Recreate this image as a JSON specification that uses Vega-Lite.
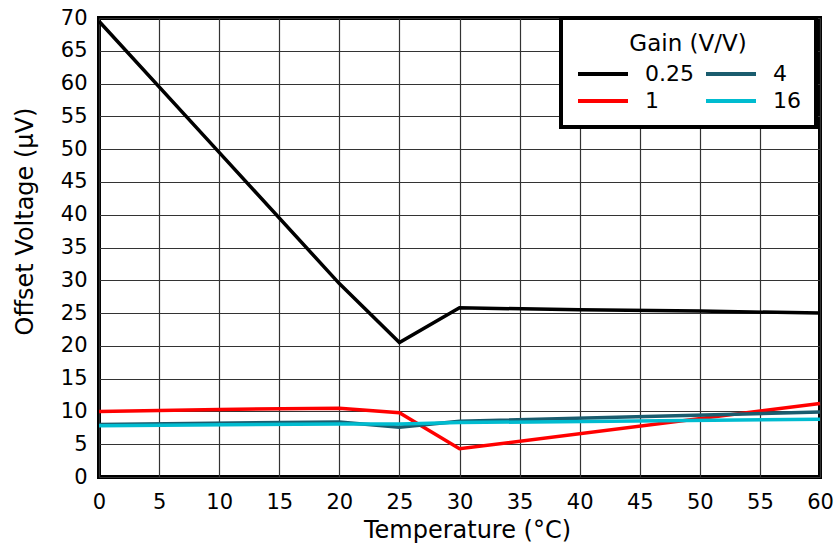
{
  "$schema": "https://vega.github.io/schema/vega-lite/v6.json",
  "width": 721,
  "height": 459,
  "autosize": "none",
  "padding": {"left": 99, "top": 18, "right": 17, "bottom": 68},
  "config": {
    "font": "DejaVu Sans",
    "view": {"stroke": "black", "strokeWidth": 4}
  },
  "data": {
    "values": [
      {"gain": "0.25", "temp": 0, "offset": 69.5},
      {"gain": "0.25", "temp": 10, "offset": 49.5},
      {"gain": "0.25", "temp": 20, "offset": 29.5},
      {"gain": "0.25", "temp": 25, "offset": 20.5},
      {"gain": "0.25", "temp": 30, "offset": 25.8},
      {"gain": "0.25", "temp": 40, "offset": 25.5},
      {"gain": "0.25", "temp": 50, "offset": 25.3},
      {"gain": "0.25", "temp": 60, "offset": 25.0},
      {"gain": "1", "temp": 0, "offset": 10.0},
      {"gain": "1", "temp": 10, "offset": 10.3},
      {"gain": "1", "temp": 20, "offset": 10.5},
      {"gain": "1", "temp": 25, "offset": 9.8},
      {"gain": "1", "temp": 30, "offset": 4.3},
      {"gain": "1", "temp": 60, "offset": 11.2},
      {"gain": "4", "temp": 0, "offset": 8.0},
      {"gain": "4", "temp": 20, "offset": 8.4},
      {"gain": "4", "temp": 25, "offset": 7.6},
      {"gain": "4", "temp": 30, "offset": 8.5},
      {"gain": "4", "temp": 60, "offset": 9.9},
      {"gain": "16", "temp": 0, "offset": 7.8},
      {"gain": "16", "temp": 20, "offset": 8.1},
      {"gain": "16", "temp": 25, "offset": 8.1},
      {"gain": "16", "temp": 30, "offset": 8.3},
      {"gain": "16", "temp": 60, "offset": 8.8}
    ]
  },
  "mark": {"type": "line", "strokeWidth": 3.5},
  "encoding": {
    "x": {
      "field": "temp",
      "type": "quantitative",
      "scale": {"domain": [0, 60], "nice": false},
      "axis": {
        "values": [0, 5, 10, 15, 20, 25, 30, 35, 40, 45, 50, 55, 60],
        "title": "Temperature (°C)",
        "grid": true,
        "gridColor": "#333333",
        "gridWidth": 1.2,
        "domain": false,
        "ticks": false,
        "labelFlush": false,
        "labelOverlap": false,
        "labelPadding": 14,
        "labelFontSize": 21,
        "labelColor": "black",
        "titleFontSize": 24,
        "titleFontWeight": "normal",
        "titleColor": "black",
        "titleBaseline": "middle",
        "titleX": 368,
        "titleY": 53
      }
    },
    "y": {
      "field": "offset",
      "type": "quantitative",
      "scale": {"domain": [0, 70], "nice": false},
      "axis": {
        "values": [0, 5, 10, 15, 20, 25, 30, 35, 40, 45, 50, 55, 60, 65, 70],
        "title": "Offset Voltage (µV)",
        "grid": true,
        "gridColor": "#333333",
        "gridWidth": 1.2,
        "domain": false,
        "ticks": false,
        "labelFlush": false,
        "labelOverlap": false,
        "labelPadding": 12,
        "labelFontSize": 21,
        "labelColor": "black",
        "titleFontSize": 24,
        "titleFontWeight": "normal",
        "titleColor": "black",
        "titleAngle": -90,
        "titleBaseline": "middle",
        "titleAlign": "center",
        "titleX": -74,
        "titleY": 203
      }
    },
    "color": {
      "field": "gain",
      "type": "nominal",
      "scale": {
        "domain": ["0.25", "1", "4", "16"],
        "range": ["#000000", "#ff0000", "#1a5c6e", "#00bcd0"]
      },
      "legend": {
        "title": "Gain (V/V)",
        "orient": "none",
        "legendX": 462,
        "legendY": 0,
        "columns": 2,
        "direction": "vertical",
        "columnPadding": 10,
        "rowPadding": 5,
        "symbolType": "stroke",
        "symbolSize": 2500,
        "symbolStrokeWidth": 4,
        "clipHeight": 22,
        "labelFontSize": 22,
        "labelColor": "black",
        "labelOffset": 15,
        "titleFontSize": 23,
        "titleFontWeight": "normal",
        "titleColor": "black",
        "titleAnchor": "middle",
        "titleAlign": "center",
        "titlePadding": 7,
        "padding": 15,
        "fillColor": "white",
        "strokeColor": "black",
        "cornerRadius": 0,
        "encode": {"legend": {"update": {"strokeWidth": {"value": 4}}}}
      }
    }
  }
}
